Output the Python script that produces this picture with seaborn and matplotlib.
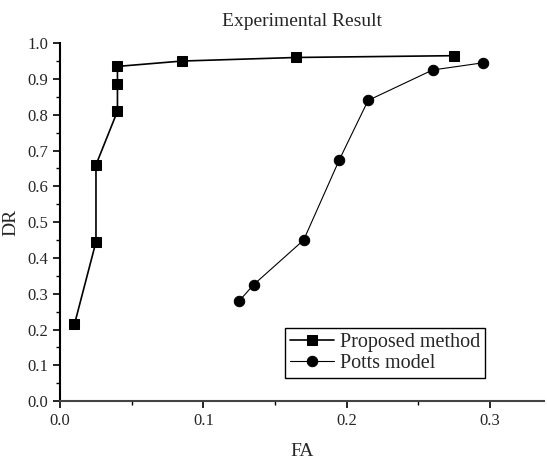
import pandas as pd
import seaborn as sns
import matplotlib.pyplot as plt
from matplotlib.ticker import MultipleLocator

# Proposed method
prop_fa = [0.01, 0.025, 0.025, 0.04, 0.04, 0.04, 0.085, 0.165, 0.275]
prop_dr = [0.215, 0.445, 0.66, 0.81, 0.885, 0.935, 0.95, 0.96, 0.965]

# Potts model
potts_fa = [0.125, 0.135, 0.17, 0.195, 0.215, 0.26, 0.295]
potts_dr = [0.28, 0.325, 0.45, 0.675, 0.84, 0.925, 0.945]

df1 = pd.DataFrame({'FA': prop_fa, 'DR': prop_dr})
df2 = pd.DataFrame({'FA': potts_fa, 'DR': potts_dr})

sns.set_style('ticks')
plt.rcParams['font.family'] = ['Liberation Serif', 'DejaVu Serif']

fig = plt.figure(figsize=(5.47, 4.59), dpi=100)
ax = fig.add_axes([0.110, 0.126, 0.885, 0.780])

sns.lineplot(x='FA', y='DR', data=df1, sort=False, estimator=None, color='black',
             marker='s', markersize=7, linewidth=1.2, markeredgecolor='black',
             label='Proposed method', ax=ax)
sns.lineplot(x='FA', y='DR', data=df2, sort=False, estimator=None, color='black',
             marker='o', markersize=7.5, linewidth=0.8, markeredgecolor='black',
             label='Potts model', ax=ax)

ax.set_xlim(0, 0.338)
ax.set_ylim(0, 1.0)
ax.xaxis.set_major_locator(MultipleLocator(0.1))
ax.xaxis.set_minor_locator(MultipleLocator(0.05))
ax.yaxis.set_major_locator(MultipleLocator(0.1))
ax.yaxis.set_minor_locator(MultipleLocator(0.05))
ax.xaxis.set_major_formatter(plt.FormatStrFormatter('%.1f'))
ax.yaxis.set_major_formatter(plt.FormatStrFormatter('%.1f'))
ax.tick_params(which='major', length=5, width=1.2, labelsize=12, color='black')
ax.tick_params(which='minor', length=3, width=1.0, color='black')

for s in ['top', 'right']:
    ax.spines[s].set_visible(False)
ax.spines['left'].set_linewidth(1.5)
ax.spines['left'].set_color('black')
ax.spines['bottom'].set_linewidth(1.5)
ax.spines['bottom'].set_color('#444444')

ax.set_xlabel('FA', fontsize=14, labelpad=10)
ax.set_ylabel('DR', fontsize=14, labelpad=6)
ax.set_title('Experimental Result', fontsize=14, pad=12)

leg = ax.legend(loc='lower left', bbox_to_anchor=(0.464, 0.064), fontsize=14.5,
                frameon=True, fancybox=False, edgecolor='black', framealpha=1,
                handlelength=2.2, handletextpad=0.3, borderpad=0.25, labelspacing=0.1,
                borderaxespad=0)
leg.get_frame().set_linewidth(1.0)

plt.savefig('out.png', dpi=100)
